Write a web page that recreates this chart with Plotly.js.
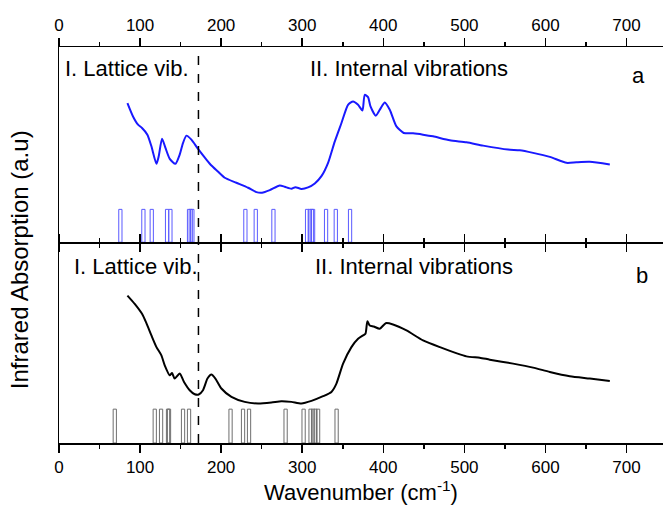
<!DOCTYPE html>
<html>
<head>
<meta charset="utf-8">
<script src="https://cdn.plot.ly/plotly-3.0.1.min.js"></script>
<style>html,body{margin:0;padding:0;background:#fff;}#chart{width:663px;height:508px;}</style>
</head>
<body>
<div id="chart"></div>
<script>
// ---- Panel a (blue) : measured IR spectrum ----
const waveA = [84.4, 91.3, 97.5, 102.4, 109, 114, 120.2, 123, 127.1, 131.3, 136.6, 143.6, 148.9, 153, 157.2, 163.3, 171.5, 181.8, 188, 196, 204.4, 218.8, 233.2, 243.5, 250.4, 260, 272.3, 278.4, 286.7, 291.6, 299, 307.2, 315.5, 323.7, 331.9, 340.1, 348.4, 356.5, 362.7, 368.9, 374.3, 377.1, 381.2, 384.2, 390.7, 396.9, 401.8, 408, 416.2, 425.2, 436.7, 449, 461.4, 482, 502.6, 523.1, 553.9, 568.3, 584.8, 605.4, 626, 638.3, 654.7, 679.4];
const absA  = [139.7, 126.3, 118, 114.7, 108, 96.3, 78.7, 86.3, 104, 94.7, 83.7, 78.7, 88, 99.7, 107, 103, 93.7, 83, 77, 71, 64.7, 59.7, 54.7, 50.3, 49.7, 52.3, 57, 55.7, 53.7, 55.3, 53.5, 55, 59, 66.3, 79.7, 101, 119.7, 138, 141.3, 138, 132.3, 148, 145.7, 136.3, 127, 134.7, 140.3, 133, 116.3, 109.7, 109.3, 108, 106.3, 102.3, 100.3, 97, 93, 92.3, 89.7, 85.7, 79.7, 80.3, 80.7, 78];

// ---- Panel b (black) : measured IR spectrum ----
const waveB = [84.4, 93.4, 102.4, 107.8, 114, 120.2, 126.3, 130.4, 136.6, 139.4, 142.7, 148.9, 154.2, 161.2, 167.4, 172.3, 177.6, 183.1, 188, 192.9, 200.3, 212.7, 229.1, 245.5, 262, 274.3, 286.7, 299, 311.4, 325.7, 336, 342.2, 350.4, 360.7, 368.9, 375, 378, 380.4, 383.3, 388.2, 395.6, 403, 412, 428.6, 449, 469.7, 502.6, 519, 531.3, 560.1, 584.8, 605.4, 630, 654.7, 679.4];
const absB  = [148, 139.7, 129.7, 120.3, 108, 96.3, 88, 78, 68, 70.3, 64.7, 69.7, 61.3, 53, 49, 48.7, 53, 64.7, 68.7, 64.7, 54.7, 46.3, 41.3, 39.7, 40.7, 42, 41.3, 39.7, 42.3, 47, 51.3, 59.7, 79.7, 96.3, 104.7, 108, 109.7, 122.3, 118, 117, 114.7, 120.3, 119, 113, 103, 96.3, 87, 85.7, 83.7, 79.7, 75.7, 71.3, 67, 64.7, 62.3];

// ---- Calculated mode positions (sticks) ----
const modesA = [75.7, 104.1, 114.4, 133.3, 137.4, 160.4, 162.5, 164.5, 229.9, 242.7, 264.5, 306, 309.3, 311.8, 313.4, 329.4, 341.4, 359];
const stickA = modesA.map(() => 33);
const modesB = [68.8, 118.1, 125.9, 134.5, 135.7, 153, 160.4, 211.6, 227, 234.4, 279.5, 301.7, 310.3, 313.4, 316.3, 319.6, 342.4];
const stickB = modesB.map(() => 34);

// ---- Axis ticks and labels ----
const xTicks = [0, 100, 200, 300, 400, 500, 600, 700];
const xTickText = ["0", "100", "200", "300", "400", "500", "600", "700"];
const dividerX = [172];
const regionLabels = ["I. Lattice vib.", "II. Internal vibrations"];
const panelLabels = ["a", "b"];

const FONT = "Liberation Sans, Arial, sans-serif";

const traces = [
  {x: modesA, y: stickA, type: "bar", xaxis: "x", yaxis: "y", width: 4,
   marker: {color: "rgba(255,255,255,0)", line: {color: "rgb(90,90,255)", width: 1}}, hoverinfo: "x"},
  {x: waveA, y: absA, type: "scatter", mode: "lines", xaxis: "x", yaxis: "y",
   line: {color: "rgb(25,25,255)", width: 2, shape: "spline", smoothing: 0.6}},
  {x: modesB, y: stickB, type: "bar", xaxis: "x2", yaxis: "y2", width: 4,
   marker: {color: "rgba(255,255,255,0)", line: {color: "rgb(110,110,110)", width: 1}}, hoverinfo: "x"},
  {x: waveB, y: absB, type: "scatter", mode: "lines", xaxis: "x2", yaxis: "y2",
   line: {color: "#000", width: 2, shape: "spline", smoothing: 0.6}}
];

const xCommon = {
  range: [0, 745], showgrid: false, zeroline: false, showline: true,
  linecolor: "#000", linewidth: 1.5, ticks: "outside", ticklen: 8, tickwidth: 1.5,
  tickcolor: "#000", tickvals: xTicks, ticktext: xTickText, mirror: "ticks",
  minor: {dtick: 50, tick0: 0, ticks: "outside", ticklen: 4, tickwidth: 1.5, tickcolor: "#000"},
  tickfont: {family: FONT, size: 17, color: "#000"}
};
const yCommon = {
  showgrid: false, zeroline: false, showline: true, linecolor: "#000", linewidth: 1.5,
  ticks: "", showticklabels: false
};

const annFont = {family: FONT, size: 22, color: "#000"};
const annotations = [
  {xref: "x", yref: "y", x: 5.5, y: 174, text: regionLabels[0], showarrow: false, xanchor: "left", yanchor: "middle", font: annFont},
  {xref: "x", yref: "y", x: 307, y: 174, text: regionLabels[1], showarrow: false, xanchor: "left", yanchor: "middle", font: annFont},
  {xref: "x", yref: "y", x: 715, y: 167, text: panelLabels[0], showarrow: false, xanchor: "center", yanchor: "middle", font: annFont},
  {xref: "x2", yref: "y2", x: 15.5, y: 177, text: regionLabels[0], showarrow: false, xanchor: "left", yanchor: "middle", font: annFont},
  {xref: "x2", yref: "y2", x: 313, y: 177, text: regionLabels[1], showarrow: false, xanchor: "left", yanchor: "middle", font: annFont},
  {xref: "x2", yref: "y2", x: 719, y: 168, text: panelLabels[1], showarrow: false, xanchor: "center", yanchor: "middle", font: annFont},
  {xref: "paper", yref: "paper", x: -0.066, y: 0.462, text: "Infrared Absorption (a.u)", textangle: -90,
   showarrow: false, xanchor: "center", yanchor: "middle", font: {family: FONT, size: 24, color: "#000"}}
];

const layout = {
  width: 663, height: 508,
  margin: {l: 59, r: 0, t: 47, b: 65},
  paper_bgcolor: "#fff", plot_bgcolor: "rgba(0,0,0,0)",
  showlegend: false, barmode: "overlay",
  font: {family: FONT, color: "#000"},
  xaxis: Object.assign({}, xCommon, {anchor: "y", side: "top"}),
  xaxis2: Object.assign({}, xCommon, {anchor: "y2", side: "bottom",
    title: {text: "Wavenumber (cm<sup>-1</sup>)", font: {family: FONT, size: 22, color: "#000"}, standoff: 6}}),
  yaxis: Object.assign({}, yCommon, {domain: [0.507, 1], range: [0, 196]}),
  yaxis2: Object.assign({}, yCommon, {domain: [0, 0.503], range: [0, 200]}),
  shapes: dividerX.map(v => ({type: "line", xref: "x", yref: "paper", x0: v, x1: v, y0: 0, y1: 1,
    line: {color: "#000", width: 1.5, dash: "dash"}})),
  annotations: annotations
};

Plotly.newPlot("chart", traces, layout, {staticPlot: true, displayModeBar: false});
</script>
</body>
</html>
